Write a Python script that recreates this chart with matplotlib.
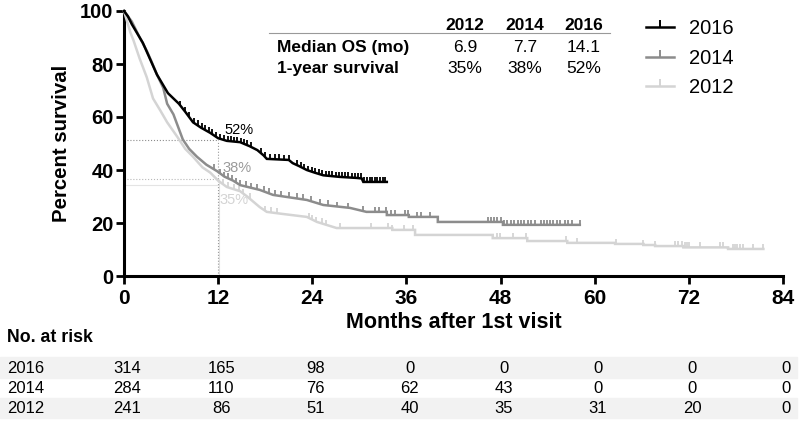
import numpy as np
import matplotlib
matplotlib.use("Agg")
import matplotlib.pyplot as plt
from matplotlib.lines import Line2D
from matplotlib.patches import Rectangle
import matplotlib.transforms as mtransforms

plt.rcParams['font.family'] = ['Liberation Sans', 'DejaVu Sans']

## Kaplan-Meier curves (month, percent surviving)
## repeated months mark the visible step corners in the tail
t_2016 = [0, 0.5, 1.0, 1.8, 2.4, 3.0, 3.6, 4.2, 5.0, 5.6, 6.3, 7.0, 7.8, 8.8, 9.8, 11.0, 12.0,
          13.1, 14.8, 16.0, 17.0, 17.8, 18.2, 21.0, 21.5, 22.3, 23.3, 24.3, 25.4, 27.5, 29.7,
          30.3, 30.5, 33.5]
s_2016 = [100, 98, 95, 91, 88, 84, 80, 76, 72, 69, 67, 65, 62, 58, 56, 54, 52,
          51, 50.5, 49, 47.5, 45.5, 44.2, 43.8, 42.6, 41.5, 40, 39, 38, 37.4, 37,
          36.8, 35.5, 35.5]

t_2014 = [0, 0.5, 1.0, 2.0, 2.9, 3.5, 4.2, 5.0, 5.5, 6.3, 7.5, 8.3, 9.3, 10.5, 11.9, 12.8, 13.9,
          14.8, 17.3, 19.0, 23.3, 25.4, 28.8, 30.9, 33.5, 33.5, 36.3, 36.3, 40.0, 40.0, 48.3,
          48.3, 58.1]
s_2014 = [100, 98, 96, 90, 85, 81, 76, 71, 65, 61, 51.5, 48, 45, 42, 39.5, 37.5, 36,
          34.3, 32.5, 30.6, 28.7, 26.8, 25.7, 24.2, 24.2, 23.0, 23.0, 22.3, 22.3, 20.4, 20.4,
          19.3, 19.3]

t_2012 = [0, 0.4, 0.8, 1.2, 2.0, 2.9, 3.7, 4.6, 5.5, 6.8, 7.8, 8.8, 10.0, 11.0, 12.0, 13.1, 14.8,
          15.7, 17.3, 18.2, 20.0, 23.3, 24.6, 27.1, 34.2, 34.2, 37.1, 37.1, 47.0, 47.0, 51.4,
          51.4, 56.5, 56.5, 62.6, 62.6, 66.2, 66.2, 67.7, 67.7, 71.3, 71.3, 77.0, 77.0, 81.5]
s_2012 = [100, 96, 92, 89, 82, 75, 67, 62.6, 58, 52.5, 48, 45, 41, 39, 36, 33.6, 32,
          30, 26, 24.2, 23.5, 22.3, 20.4, 18.1, 18.1, 17.4, 17.4, 15.5, 15.5, 14.3, 14.3,
          13.2, 13.2, 12.5, 12.5, 12.1, 12.1, 11.7, 11.7, 11.3, 11.3, 10.8, 10.8, 10.2, 10.2]

## censored observations (months)
c_2016 = [7.2, 7.8, 8.3, 8.9, 9.4, 9.9, 10.3, 10.8, 11.2, 11.7, 12.3, 12.7, 13.2, 13.6, 14.0,
          14.4, 14.9, 15.3, 15.7, 16.2, 17.5, 18.0, 18.6, 19.2, 19.8, 20.4, 21.0, 22.0, 22.6,
          23.0, 23.5, 24.0, 24.4, 24.8, 25.2, 25.7, 26.1, 26.5, 27.0, 27.4, 27.8, 28.2, 28.6,
          29.0, 29.4, 29.8, 30.2, 30.6, 31.0, 31.3, 31.6, 32.0, 32.3, 32.6, 33.0, 33.3]
c_2014 = [11.5, 12.3, 12.8, 13.3, 13.8, 14.3, 14.8, 15.5, 16.2, 17.0, 17.8, 18.5, 19.3, 20.0,
          21.0, 22.0, 22.8, 23.8, 25.0, 26.0, 27.2, 28.5, 30.5, 32.0, 32.5, 33.4, 34.0, 34.6,
          35.8, 36.2, 37.3, 37.8, 39.0, 46.4, 46.8, 47.2, 47.6, 48.0, 48.4, 48.8, 49.3, 49.7,
          50.2, 50.6, 51.0, 51.5, 51.9, 52.4, 53.1, 53.5, 53.9, 54.3, 54.7, 55.2, 55.6, 56.2,
          56.6, 57.1, 58.1]
c_2012 = [12.6, 13.3, 14.0, 14.6, 15.2, 16.0, 18.0, 18.8, 19.5, 23.6, 24.0, 24.5, 25.2, 25.7,
          27.5, 31.5, 33.6, 34.2, 35.7, 36.9, 47.5, 47.9, 49.6, 51.2, 56.4, 57.7, 62.7, 66.2,
          67.7, 70.2, 70.6, 71.1, 71.5, 71.8, 72.0, 73.4, 76.0, 76.4, 77.6, 77.9, 78.2, 78.5,
          78.9, 80.2, 81.5]

years = ['2016', '2014', '2012']
colors = ['#000000', '#8c8c8c', '#d4d4d4']
median_os = ['6.9', '7.7', '14.1']        # order 2012, 2014, 2016
one_year = ['35%', '38%', '52%']
one_year_val = [34.5, 36.5, 51.5]        # 2012, 2014, 2016

risk_times = [0, 12, 24, 36, 48, 60, 72, 84]
risk_2016 = [314, 165, 98, 0, 0, 0, 0, 0]
risk_2014 = [284, 110, 76, 62, 43, 0, 0, 0]
risk_2012 = [241, 86, 51, 40, 35, 31, 20, 0]


def curve_at(t, s, x):
    ## height of the drawn curve at each censor time (right-hand value at a step)
    t = np.asarray(t)
    s = np.asarray(s)
    out = []
    for xi in x:
        idx = np.where(t <= xi)[0][-1]
        if idx + 1 < len(t) and t[idx + 1] > t[idx]:
            f = (xi - t[idx]) / (t[idx + 1] - t[idx])
            out.append(s[idx] + f * (s[idx + 1] - s[idx]))
        else:
            out.append(s[idx])
    return out


fig = plt.figure(figsize=(7.99, 4.23), dpi=100)
ax = fig.add_axes([124/799, 1-276/423, 659/799, 265/423])

curves = [(t_2012, s_2012, c_2012, colors[2]),
          (t_2014, s_2014, c_2014, colors[1]),
          (t_2016, s_2016, c_2016, colors[0])]
for z, (t, s, c, col) in enumerate(curves):
    ax.plot(t, s, color=col, lw=1.8, zorder=3+z, clip_on=False, solid_joinstyle='miter')
    ax.plot(c, curve_at(t, s, c), ls='none', marker=2, ms=3.8, mew=1.3, color=col,
            zorder=3+z, clip_on=False)

## 1-year guide lines
ax.hlines(one_year_val[2], 0, 12, colors='#8c8c8c', linestyles=':', lw=0.8, zorder=2)
ax.hlines(one_year_val[1], 0, 12, colors='#b8b8b8', linestyles=':', lw=0.8, zorder=2)
ax.hlines(one_year_val[0], 0, 12, colors='#e4e4e4', linestyles='-', lw=0.8, zorder=2)
ax.vlines(12, 0, one_year_val[2], colors='#9a9a9a', linestyles=':', lw=0.8, zorder=2)
ax.vlines(12.1, 0, one_year_val[1], colors='#e0e0e0', linestyles='-', lw=0.8, zorder=1)
ax.text(12.8, 55, one_year[2], color='#000000', fontsize=10.5, va='center')
ax.text(12.6, 40.8, one_year[1], color='#9a9a9a', fontsize=10.5, va='center')
ax.text(12.2, 28.7, one_year[0], color='#d4d4d4', fontsize=10.5, va='center')

## summary table
col_x = [43.5, 51.1, 58.6]
for x, yr, m, o in zip(col_x, ['2012', '2014', '2016'], median_os, one_year):
    ax.text(x, 94.6, yr, ha='center', va='center', fontsize=12.5, fontweight='bold')
    ax.text(x, 86.4, m, ha='center', va='center', fontsize=12.5)
    ax.text(x, 78.2, o, ha='center', va='center', fontsize=12.5)
ax.text(19.5, 86.4, 'Median OS (mo)', ha='left', va='center', fontsize=12.5, fontweight='bold')
ax.text(19.5, 78.2, '1-year survival', ha='left', va='center', fontsize=12.5, fontweight='bold')
ax.plot([18.5, 62], [91.6, 91.6], color='#999999', lw=0.8, clip_on=False)

## legend
handles = [Line2D([], [], color=c, lw=1.8, marker=2, ms=5, mew=1.4) for c in colors]
ax.legend(handles, years, loc='upper left', bbox_to_anchor=(0.792, 0.968), frameon=False,
          fontsize=14.5, handlelength=1.4, handletextpad=0.75, labelspacing=0.52,
          borderpad=0, borderaxespad=0, numpoints=1)

ax.set_xlim(0, 84)
ax.set_ylim(0, 100)
ax.set_xticks(risk_times)
ax.set_yticks([0, 20, 40, 60, 80, 100])
for side in ['top', 'right']:
    ax.spines[side].set_visible(False)
for side in ['left', 'bottom']:
    ax.spines[side].set_linewidth(2.2)
ax.tick_params(direction='out', length=6, width=2)
ax.tick_params(axis='x', labelsize=15, pad=3)
ax.tick_params(axis='y', labelsize=14.5, pad=1.5)
for lab in ax.get_xticklabels() + ax.get_yticklabels():
    lab.set_fontweight('bold')
ax.set_ylabel('Percent survival', fontsize=14.7, fontweight='bold')
ax.yaxis.set_label_coords(-0.080, 0.5)
ax.set_xlabel('Months after 1st visit', fontsize=15.5, fontweight='bold')
ax.xaxis.set_label_coords(0.5, -0.136)

## number at risk table
trans = mtransforms.blended_transform_factory(ax.transData, fig.transFigure)
fig.patches.append(Rectangle((0, 1-378/423), 797/799, 21/423, transform=fig.transFigure,
                             color='#f2f2f2', zorder=0))
fig.patches.append(Rectangle((0, 1-418/423), 797/799, 20/423, transform=fig.transFigure,
                             color='#f2f2f2', zorder=0))
fig.text(7/799, 1-337/423, 'No. at risk', fontsize=12.8, fontweight='bold', va='center')
narrow = ['Liberation Sans Narrow', 'Liberation Sans', 'DejaVu Sans']
for yfig, yr, row in zip([1-368/423, 1-388/423, 1-408/423], years,
                         [risk_2016, risk_2014, risk_2012]):
    fig.text(7/799, yfig, yr, fontsize=12, family=narrow, va='center')
    for x, n in zip(risk_times, row):
        fig.text(x + 0.4, yfig, str(n), transform=trans, fontsize=12, family=narrow,
                 ha='center', va='center')

fig.savefig('out.png', dpi=100)
